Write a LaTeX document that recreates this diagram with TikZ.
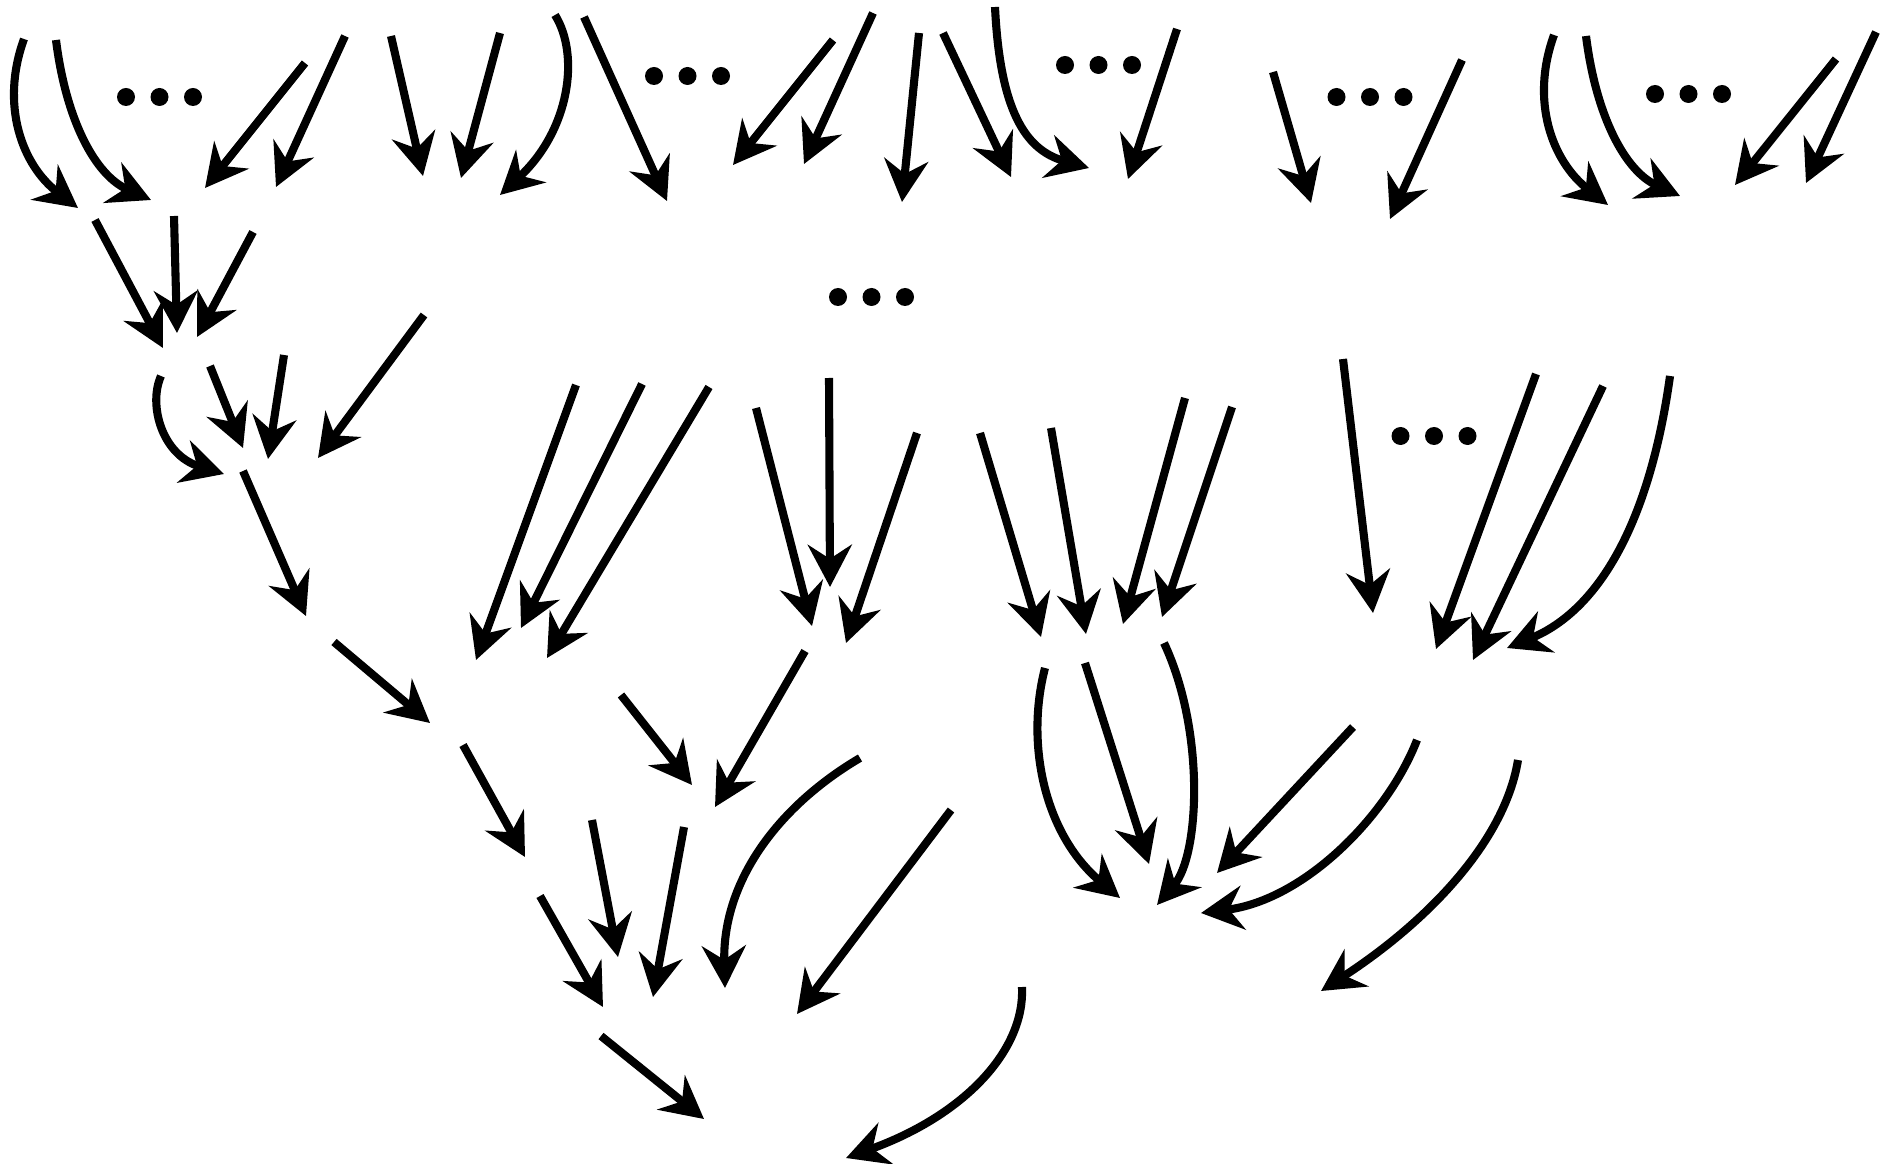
\documentclass[tikz,border=0pt]{standalone}
\usetikzlibrary{arrows.meta}
\begin{document}
\begin{tikzpicture}[x=0.01cm,y=-0.01cm,>={Stealth[length=12pt,width=12.5pt,inset=4pt]},edge/.style={->,line width=2.3pt},ell/.style={fill=black}]
\useasboundingbox (0,0) rectangle (1900,1164);
\foreach \n/\a/\b/\c/\d in {a3/305/63/205/188,a4/345/36/276/187,a5/391/36/423/176,a6/500/33/461/178,a8/584/17/667/201,a9/833/40/733/165,a10/873/13/804/164,a11/919/33/902/202,a12/943/33/1011/177,a14/1177/29/1128/179,a15/1273/72/1311/203,a16/1462/60/1390/219,a19/1836/59/1735/185,a20/1876/32/1806/183,
 b1/95/220/163/348,b2/174/216/177/333,b3/253/232/197/337,c2/210/366/243/448,c3/284/355/268/459,c4/424/315/318/458,c5/243/471/306/616,c6/334/642/430/723,
 d1/576/385/476/660,d2/642/384/521/628,d3/709/387/547/658,d4/756/408/812/626,d5/829/378/830/587,d6/917/433/846/643,d7/805/651/715/807,d8/621/695/692/785,
 g1/980/433/1041/637,g2/1051/428/1086/634,g3/1185/398/1123/624,g4/1232/407/1162/617,g5/1343/359/1373/613,i1/1536/374/1436/649,i2/1603/386/1473/660,h2/1085/663/1149/864,h4/1353/727/1217/873,
 e1/463/745/525/857,e2/592/820/618/957,e3/684/827/653/997,e5/951/810/797/1014,f1/540/896/603/1007,f2/601/1036/704/1119}
 {\coordinate (s\n) at (\a,\b);\coordinate (t\n) at (\c,\d);\draw[edge] (s\n)--(t\n);}
\foreach \n/\a/\b/\p/\q/\r/\u/\c/\d in {a1/24/39/0/105/22/165/78/208,a2/56/40/66/120/95/175/151/200,a7/555/15/580/55/570/130/500/195,a13/995/7/1000/110/1025/150/1089/168,
 a17/1554/35/1530/101/1552/161/1608/205,a18/1586/36/1596/116/1625/171/1680/196,c1/161/376/148/405/162/455/224/474,e4/860/758/780/805/722/880/725/988,
 f3/1022/987/1025/1050/965/1115/846/1158,h1/1045/668/1025/745/1045/835/1120/898,h3/1164/643/1205/730/1200/855/1157/905,h5/1417/740/1388/815/1305/900/1201/913,
 h6/1518/760/1505/840/1430/920/1321/991,i3/1670/376/1650/520/1600/610/1507/648}
 {\coordinate (s\n) at (\a,\b);\coordinate (t\n) at (\c,\d);\draw[edge] (s\n) .. controls (\p,\q) and (\r,\u) .. (t\n);}
\foreach \x/\y in {159.5/97,687.5/76,1098.5/65,1370/97,1688.5/94,871.5/297,1434/436}
 {\foreach \k in {0,1,2}\fill[ell] (\x-33.5+33.5*\k,\y) circle[radius=9];}
\end{tikzpicture}
\end{document}
